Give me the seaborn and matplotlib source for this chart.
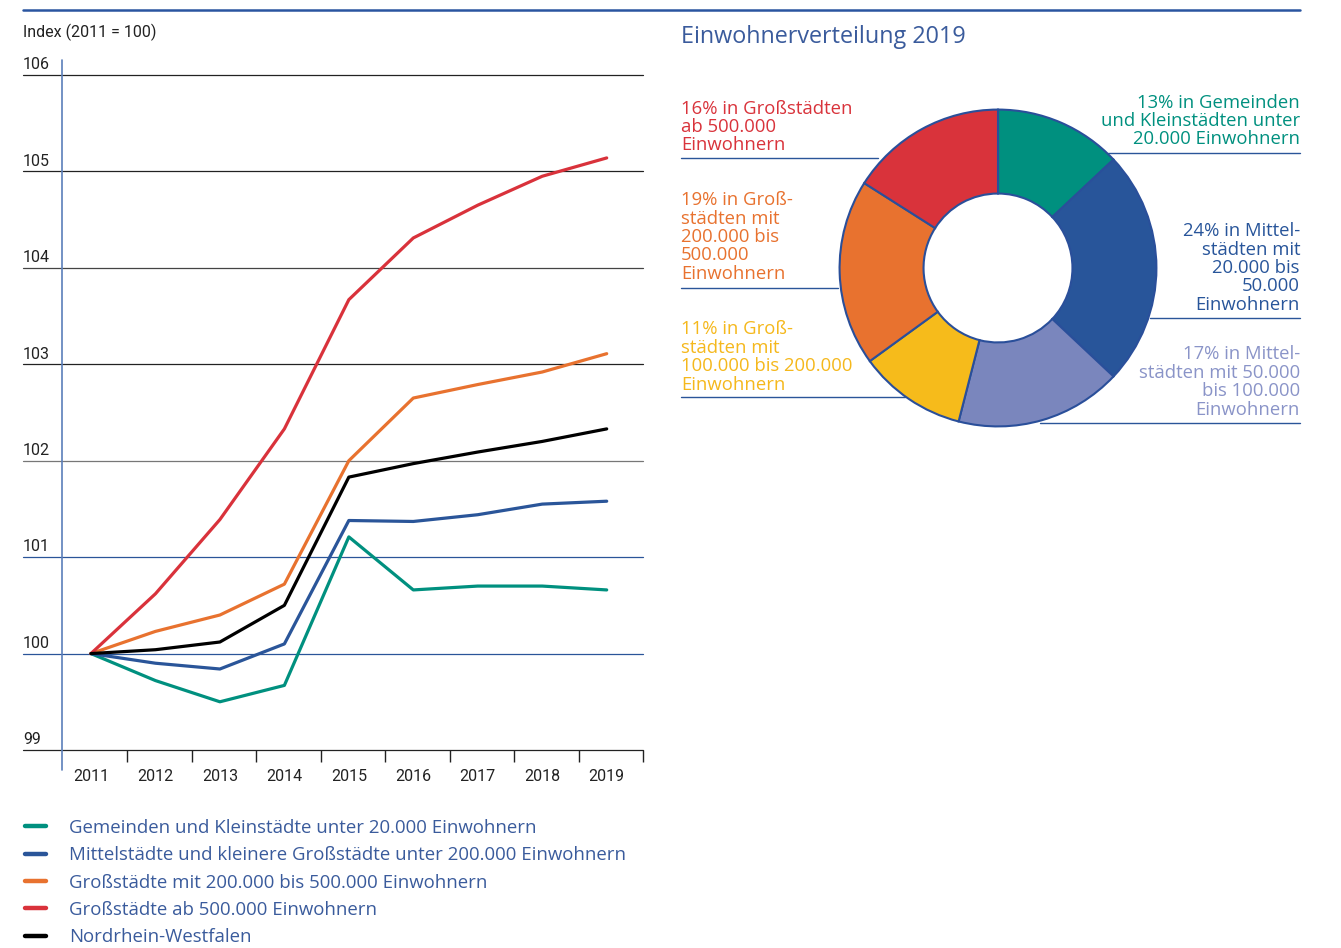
import pandas as pd
import matplotlib
matplotlib.use("Agg")
import matplotlib.pyplot as plt
from matplotlib.lines import Line2D
import seaborn as sns

# --- data -------------------------------------------------------------
years = [2011, 2012, 2013, 2014, 2015, 2016, 2017, 2018, 2019]
series_names = [
    "Gemeinden und Kleinstädte unter 20.000 Einwohnern",
    "Mittelstädte und kleinere Großstädte unter 200.000 Einwohnern",
    "Großstädte mit 200.000 bis 500.000 Einwohnern",
    "Großstädte ab 500.000 Einwohnern",
    "Nordrhein-Westfalen",
]
klein = [100.0, 99.72, 99.50, 99.67, 101.21, 100.66, 100.70, 100.70, 100.66]
mittel = [100.0, 99.90, 99.84, 100.10, 101.38, 101.37, 101.44, 101.55, 101.58]
gross_200 = [100.0, 100.23, 100.40, 100.72, 102.00, 102.65, 102.79, 102.92, 103.11]
gross_500 = [100.0, 100.62, 101.39, 102.33, 103.67, 104.31, 104.65, 104.95, 105.14]
nrw = [100.0, 100.04, 100.12, 100.50, 101.83, 101.97, 102.09, 102.20, 102.33]
y_ticks = [99, 100, 101, 102, 103, 104, 105, 106]

pie_shares = [13, 24, 17, 11, 19, 16]
pie_labels = [
    "13% in Gemeinden\nund Kleinstädten unter\n20.000 Einwohnern",
    "24% in Mittel-\nstädten mit\n20.000 bis\n50.000\nEinwohnern",
    "17% in Mittel-\nstädten mit 50.000\nbis 100.000\nEinwohnern",
    "11% in Groß-\nstädten mit\n100.000 bis 200.000\nEinwohnern",
    "19% in Groß-\nstädten mit\n200.000 bis\n500.000\nEinwohnern",
    "16% in Großstädten\nab 500.000\nEinwohnern",
]

# --- style ------------------------------------------------------------
TEAL, BLUE, ORANGE, RED, BLACK = "#00907f", "#2a5599", "#e8722f", "#d9323b", "#000000"
line_colors = [TEAL, BLUE, ORANGE, RED, BLACK]
pie_colors = [TEAL, "#28559a", "#7a86bd", "#f6bb1b", "#e8722f", "#d9333b"]
pie_text_colors = [TEAL, "#28559a", "#8a94c8", "#f5b81c", "#e8722f", "#d9333b"]
TEXT_BLUE = "#3a5b9c"
RULE_BLUE = "#2a55a0"
WIDE = ["Open Sans", "DejaVu Sans"]

sns.set_theme(style="white")
plt.rcParams["font.family"] = ["Roboto", "DejaVu Sans"]

W, H = 1341, 948
fig = plt.figure(figsize=(W / 100, H / 100), dpi=100)


def fx(x):
    return x / W


def fy(y):
    return 1 - y / H


# top rule
fig.add_artist(Line2D([fx(23), fx(1300)], [fy(10), fy(10)], color=RULE_BLUE, lw=1.8))

# --- line chart -------------------------------------------------------
df = pd.DataFrame({
    "Jahr": years * 5,
    "Index": klein + mittel + gross_200 + gross_500 + nrw,
    "Gebiet": [n for n in series_names for _ in years],
})

slot = 64.5  # px per year
ax = fig.add_axes([fx(23), fy(750), fx(643 - 23), (750 - 75) / H])
grid_colors = {99: "#222222", 100: BLUE, 101: BLUE, 102: "#777777",
               103: "#222222", 104: "#444444", 105: "#222222", 106: "#222222"}
for v in y_ticks:
    ax.axhline(v, color=grid_colors[v], lw=0.9, zorder=1, clip_on=False)
    ax.annotate(str(v), xy=(0, v), xycoords=("axes fraction", "data"),
                xytext=(0, 2), textcoords="offset points",
                ha="left", va="bottom", fontsize=11.5, color="#222222")

sns.lineplot(data=df, x="Jahr", y="Index", hue="Gebiet", hue_order=series_names,
             palette=line_colors, linewidth=2.3, legend=False, ax=ax, zorder=3)

ax.set_xlim(years[0] - (91 - 23) / slot, years[-1] + (643 - 607) / slot)
ax.set_ylim(99, 106)
ax.axvline(years[0] - 28.7 / slot, ymin=-20 / 675, ymax=1 + 15 / 675,
           color="#5b7fba", lw=1.2, clip_on=False, zorder=2)

ax.set_xticks(years)
ax.set_xticklabels([str(y) for y in years], fontsize=11.5, color="#222222")
ax.set_xticks([y + 0.563 for y in years], minor=True)
ax.tick_params(axis="x", which="major", length=0, pad=14)
ax.tick_params(axis="x", which="minor", length=8.5, width=1, color="#222222",
               direction="out", bottom=True)
ax.set_yticks([])
ax.set_xlabel("")
ax.set_ylabel("")
for s in ax.spines.values():
    s.set_visible(False)

fig.text(fx(23), fy(32), "Index (2011 = 100)", fontsize=11.5, color="#222222", ha="left", va="center")

handles = [Line2D([0], [0], color=c, lw=3.2) for c in line_colors]
leg = ax.legend(handles, series_names, loc="upper left",
                bbox_to_anchor=(fx(25), fy(819)), bbox_transform=fig.transFigure,
                frameon=False, prop={"family": WIDE, "size": 13.4},
                handlelength=1.15, handletextpad=1.2,
                labelspacing=0.5, borderaxespad=0, borderpad=0)
for t in leg.get_texts():
    t.set_color(TEXT_BLUE)

# --- donut chart ------------------------------------------------------
fig.text(fx(681), fy(37), "Einwohnerverteilung 2019", fontsize=16.8, family=WIDE,
         color=TEXT_BLUE, ha="left", va="center")

pax = fig.add_axes([fx(838), fy(428), 320 / W, 320 / H])
pax.pie(pie_shares, colors=pie_colors, startangle=90, counterclock=False,
        wedgeprops=dict(width=0.53, edgecolor="#2a4f9a", linewidth=1.5))
pax.set_xlim(-1.01, 1.01)
pax.set_ylim(-1.01, 1.01)
pax.set_aspect("equal")

# label placement: (text x, block centre y, alignment, underline y, underline x0, x1)
label_pos = [
    (1300, 121, "right", 153, 1108, 1300),
    (1300, 268, "right", 318, 1150, 1300),
    (1300, 382, "right", 423, 1040, 1300),
    (681, 357, "left", 397, 681, 905),
    (681, 237, "left", 288, 681, 838),
    (681, 127, "left", 158, 681, 878),
]
for lab, col, (tx, ty, ha, uy, ux0, ux1) in zip(pie_labels, pie_text_colors, label_pos):
    fig.text(fx(tx), fy(ty), lab, fontsize=13.3, family=WIDE, color=col, ha=ha, va="center",
             multialignment=ha, linespacing=1.03)
    fig.add_artist(Line2D([fx(ux0), fx(ux1)], [fy(uy), fy(uy)], color=BLUE, lw=1.0))

fig.savefig("out.png", dpi=100)
